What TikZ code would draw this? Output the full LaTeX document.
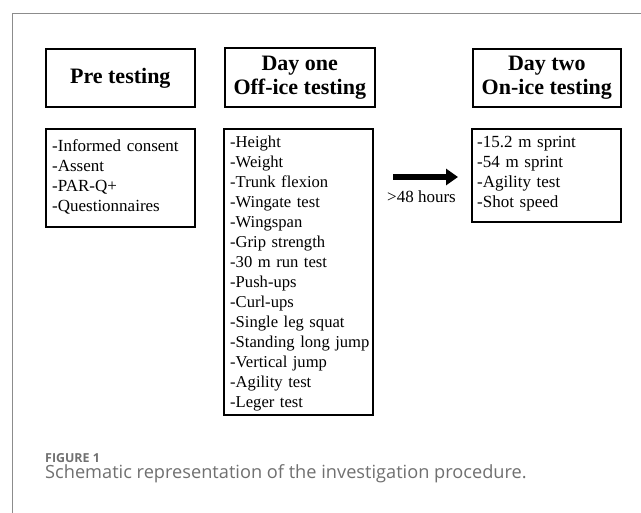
\documentclass[tikz,border=0pt]{standalone}
\usepackage{fontspec}
\setmainfont{Liberation Serif}
\newfontfamily\capfont{Open Sans}
\usetikzlibrary{arrows.meta}
\definecolor{framegray}{HTML}{8C8C8C}
\definecolor{capgray}{HTML}{707070}
\tikzset{
  hdrbox/.style={draw=black, line width=1.6pt, anchor=north west, inner sep=0pt,
    align=center, font=\bfseries\fontsize{22}{24}\selectfont},
  boxframe/.style={draw=black, line width=1.6pt, anchor=north west, inner sep=0pt},
  listtext/.style={anchor=base west, inner sep=0pt, text width=170pt, align=left,
    font=\fontsize{17}{20}\selectfont},
  bigarrow/.style={line width=6pt, -{Triangle[length=12pt, width=16pt]}},
}
\begin{document}
\begin{tikzpicture}[x=1pt, y=-1pt]
\useasboundingbox (0,0) rectangle (641,513);
\fill[white] (0,0) rectangle (641,513);
% frame
\draw[framegray, line width=0.9pt] (12,513) -- (12,13) -- (641,13);
% header boxes
\node[hdrbox, minimum width=149pt, minimum height=58pt] (pre) at (45,48) {Pre testing};
\node[hdrbox, minimum width=150pt, minimum height=59pt] (one) at (224,47) {Day one\\Off-ice testing};
\node[hdrbox, minimum width=148pt, minimum height=58pt] (two) at (472,48) {Day two\\On-ice testing};
% list boxes
\node[boxframe, minimum width=149pt, minimum height=98pt] (prelist) at (45,128) {};
\node[boxframe, minimum width=149pt, minimum height=286pt] (onelist) at (223,128) {};
\node[boxframe, minimum width=149pt, minimum height=93pt] (twolist) at (471,128) {};
% list texts
\node[listtext] (pretext) at (52,152)
  {-Informed consent\\-Assent\\-PAR-Q+\\-Questionnaires};
\node[listtext, font=\fontsize{16.6}{20}\selectfont] (onetext) at (230,148)
  {-Height\\-Weight\\-Trunk flexion\\-Wingate test\\-Wingspan\\-Grip strength\\-30 m run test\\-Push-ups\\-Curl-ups\\-Single leg squat\\-Standing long jump\\-Vertical jump\\-Agility test\\-Leger test};
\node[listtext] (twotext) at (477,148)
  {-15.2 m sprint\\-54 m sprint\\-Agility test\\-Shot speed};
% arrow
\coordinate (astart) at (393,177);
\coordinate (aend) at (458,177);
\draw[bigarrow] (astart) -- (aend);
\node[anchor=base, inner sep=0pt, font=\fontsize{17}{20}\selectfont] (hours) at (421.5,203) {>48 hours};
% caption
\node[anchor=base west, inner sep=0pt, text=capgray, font=\capfont\bfseries\fontsize{12.4}{14}\selectfont] (fig) at (45,463) {FIGURE 1};
\node[anchor=base west, inner sep=0pt, text=capgray, font=\capfont\fontsize{18.2}{20}\selectfont] (cap) at (45,479) {Schematic representation of the investigation procedure.};
\end{tikzpicture}
\end{document}
